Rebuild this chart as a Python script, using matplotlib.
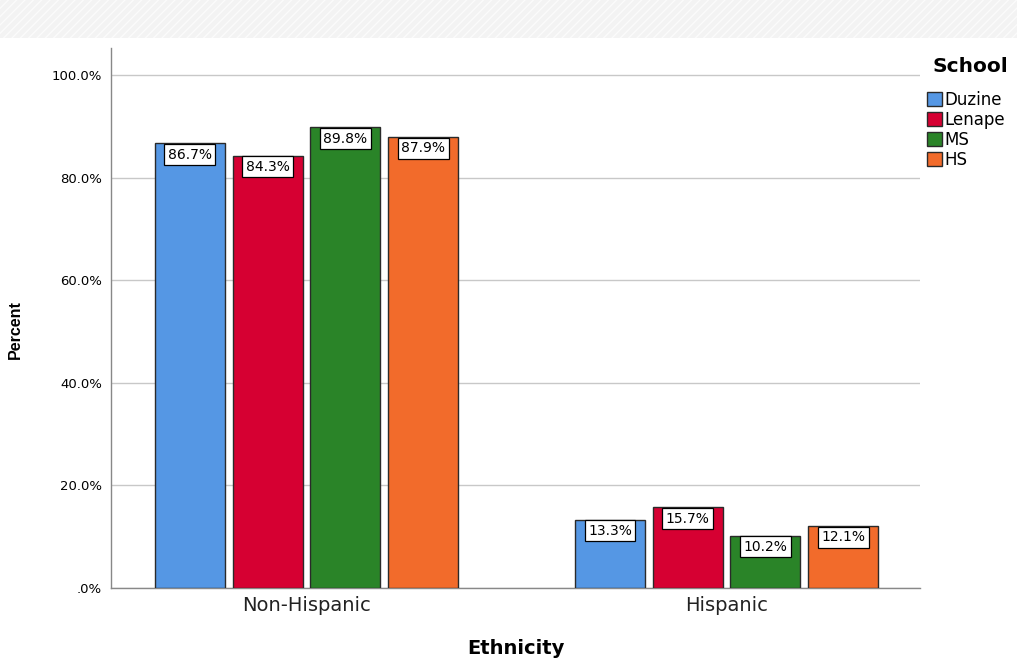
import matplotlib.pyplot as plt
import matplotlib.patches as mpatches
import numpy as np

# Data
categories = ["Non-Hispanic", "Hispanic"]
schools = ["Duzine", "Lenape", "MS", "HS"]
values = {
    "Duzine": [86.7, 13.3],
    "Lenape": [84.3, 15.7],
    "MS": [89.8, 10.2],
    "HS": [87.9, 12.1],
}
colors = ["#5597E4", "#D60032", "#2A8428", "#F26B2B"]
yticks = [0, 20, 40, 60, 80, 100]
ytick_labels = [".0%", "20.0%", "40.0%", "60.0%", "80.0%", "100.0%"]

plt.rcParams["font.family"] = ["DejaVu Sans"]

W, H = 1017, 661
fig = plt.figure(figsize=(W / 100, H / 100), dpi=100)

# Light hatched header band
band = fig.add_axes([0, 1 - 38 / H, 1, 38 / H])
band.set_axis_off()
band.add_patch(mpatches.Rectangle((0, 0), 1, 1, transform=band.transAxes,
                                  facecolor="#F3F3F3", edgecolor="#FBFBFB",
                                  hatch="////", linewidth=0))

ax_l, ax_r, ax_t, ax_b = 111, 920, 48, 588
ax = fig.add_axes([ax_l / W, 1 - ax_b / H, (ax_r - ax_l) / W, (ax_b - ax_t) / H])

x = np.arange(len(categories))
width = 0.1667
step = 0.185
for i, (school, c) in enumerate(zip(schools, colors)):
    offs = (i - 1.5) * step
    bars = ax.bar(x + offs, values[school], width=width, color=c,
                  edgecolor="#2A2A2A", linewidth=1.0, zorder=3, label=school)
    for b, v in zip(bars, values[school]):
        ax.annotate(f"{v:.1f}%", xy=(b.get_x() + b.get_width() / 2, v),
                    xytext=(0, -3), textcoords="offset points",
                    ha="center", va="top", fontsize=10, zorder=5,
                    bbox=dict(boxstyle="square,pad=0.25", facecolor="white",
                              edgecolor="black", linewidth=0.9))

ax.set_xlim(-0.4655, 1.4607)
ax.set_ylim(0, 105.3)
ax.set_yticks(yticks)
ax.set_yticklabels(ytick_labels, fontsize=9.5)
ax.set_xticks(x)
ax.set_xticklabels(categories, fontsize=14, color="#222222")
ax.tick_params(axis="both", length=0)
ax.tick_params(axis="x", pad=6)
ax.tick_params(axis="y", pad=6.5)
ax.grid(axis="y", color="#C8C8C8", linewidth=1.0, zorder=0)
for s in ["top", "right"]:
    ax.spines[s].set_visible(False)
for s in ["left", "bottom"]:
    ax.spines[s].set_color("#888888")
    ax.spines[s].set_linewidth(1.0)

fig.text(15 / W, 1 - 330 / H, "Percent", rotation=90, ha="center", va="center",
         fontsize=11.5, fontweight="bold", family=["Liberation Sans"])
fig.text(516 / W, 1 - 649 / H, "Ethnicity", ha="center", va="center",
         fontsize=14, fontweight="bold")

# Legend
fig.text(933 / W, 1 - 66 / H, "School", ha="left", va="center",
         fontsize=14.5, fontweight="bold")
handles = [mpatches.Patch(facecolor=c, edgecolor="#2A2A2A", linewidth=1.0)
           for c in colors]
fig.legend(handles, schools, loc="upper left",
           bbox_to_anchor=(927 / W, 1 - 91 / H), frameon=False,
           fontsize=12, handlelength=0.9, handleheight=0.9, handletextpad=0.15,
           labelspacing=0.12, borderaxespad=0, borderpad=0)

fig.savefig("out.png", dpi=100)
